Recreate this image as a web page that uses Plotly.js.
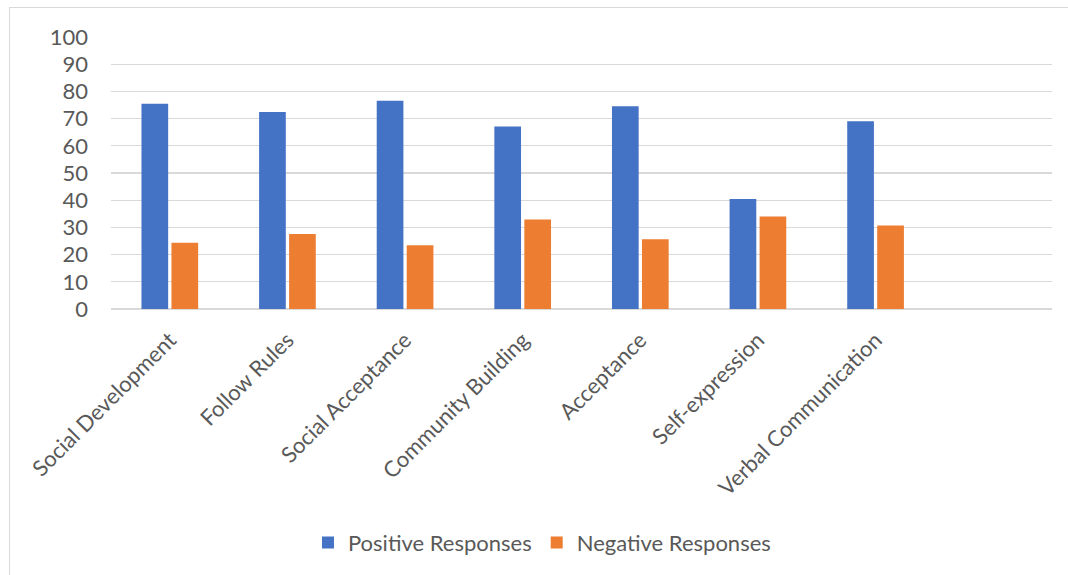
<!DOCTYPE html>
<html>
<head>
<meta charset="utf-8">
<script src="https://cdn.plot.ly/plotly-3.0.1.min.js"></script>
<style>
  html, body { margin: 0; padding: 0; background: #ffffff; }
  #wrap { position: relative; width: 1068px; height: 575px; }
  #chart { width: 1068px; height: 575px; }
  #frame { position: absolute; left: 9px; top: 7px; right: -2px; bottom: -2px;
           border-left: 1.5px solid #d9d9d9; border-top: 1.5px solid #d9d9d9;
           pointer-events: none; }
</style>
</head>
<body>
<div id="wrap">
  <div id="chart"></div>
  <div id="frame"></div>
</div>
<script>
const categories = ["Social Development", "Follow Rules", "Social Acceptance", "Community Building",
                    "Acceptance", "Self-expression", "Verbal Communication"];
const positiveResponses = [75.5, 72.4, 76.6, 67.1, 74.5, 40.4, 69.0];
const negativeResponses = [24.4, 27.6, 23.4, 32.9, 25.6, 34.0, 30.7];
const seriesNames = ["Positive Responses", "Negative Responses"];
const yTicks = [0, 10, 20, 30, 40, 50, 60, 70, 80, 90, 100];

const FONT = "Lato, 'Open Sans', sans-serif";
const TXT = "#595959";

const traces = [
  { type: "bar", name: seriesNames[0], x: categories, y: positiveResponses,
    marker: { color: "#4472C4" }, hoverinfo: "x+y" },
  { type: "bar", name: seriesNames[1], x: categories, y: negativeResponses,
    marker: { color: "#ED7D31" }, hoverinfo: "x+y" }
];

const layout = {
  width: 1068, height: 575,
  margin: { l: 111, r: 16, t: 36.5, b: 265 },
  paper_bgcolor: "#ffffff", plot_bgcolor: "#ffffff",
  font: { family: FONT, size: 22, color: TXT },
  barmode: "group", bargap: 0.49, bargroupgap: 0.11,
  showlegend: true,
  legend: { orientation: "h", x: 0.458, xanchor: "center", y: -0.852, yanchor: "middle",
            font: { family: FONT, size: 22, color: TXT }, traceorder: "normal" },
  xaxis: { type: "category", range: [-0.5, 7.5], tickangle: -45, showgrid: false,
           showline: false, ticks: "", ticklabelstandoff: 13,
           tickfont: { family: FONT, size: 22, color: TXT }, fixedrange: true },
  yaxis: { range: [0, 100], tickvals: yTicks, ticktext: yTicks.map(String),
           showgrid: true, gridcolor: "#d9d9d9", gridwidth: 1.3,
           zeroline: true, zerolinecolor: "#d9d9d9", zerolinewidth: 1.3,
           showline: false, ticks: "", ticklabelstandoff: 22,
           tickfont: { family: FONT, size: 22, color: TXT }, fixedrange: true }
};

Plotly.newPlot("chart", traces, layout, { displayModeBar: false, staticPlot: true });
</script>
</body>
</html>
